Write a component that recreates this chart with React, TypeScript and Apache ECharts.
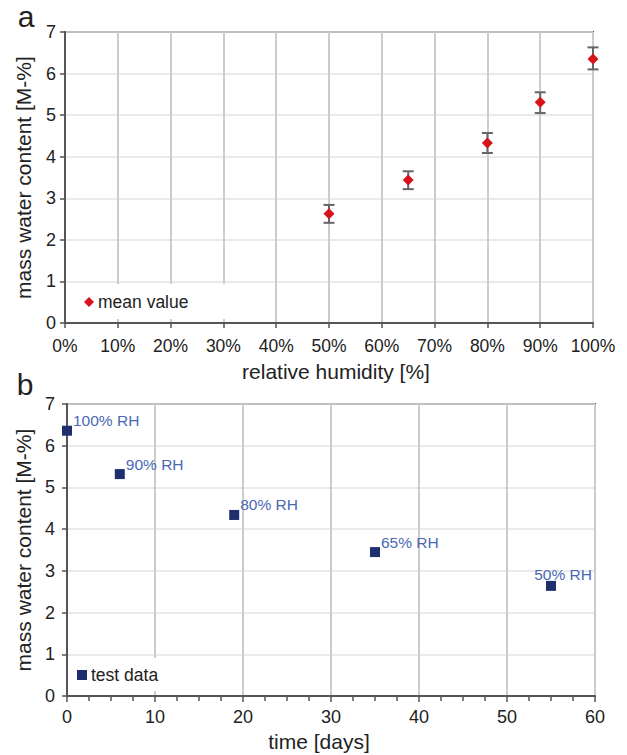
import React, { useEffect, useRef } from "react";
import * as echarts from "echarts";

// Panel a: mean water content vs relative humidity
const humidity = [50, 65, 80, 90, 100];
const meanValue = [2.63, 3.44, 4.33, 5.31, 6.35];
const errLower = [2.41, 3.22, 4.09, 5.05, 6.1];
const errUpper = [2.84, 3.65, 4.57, 5.55, 6.63];

// Panel b: test data vs time
const days = [0, 6, 19, 35, 55];
const testData = [6.36, 5.32, 4.34, 3.45, 2.64];
const pointLabels = ["100% RH", "90% RH", "80% RH", "65% RH", "50% RH"];

const FONT = "'Liberation Sans', Arial, Helvetica, sans-serif";
const AXIS = "#555555";
const TEXT = "#222222";

export default function App() {
  const ref = useRef<HTMLDivElement>(null);
  useEffect(() => {
    if (!ref.current) return;
    const chart = echarts.init(ref.current, null, { renderer: "svg" });

    const yAxisCommon = (gridIndex: number, margin: number, fs: number) => ({
      type: "value",
      gridIndex,
      min: 0,
      max: 7,
      interval: 1,
      name: "mass water content [M-%]",
      nameLocation: "middle",
      nameGap: 31,
      nameTextStyle: { fontSize: 21, color: TEXT, fontFamily: FONT },
      axisLine: { show: true, lineStyle: { color: AXIS, width: 2 } },
      axisTick: { show: true, length: 5, lineStyle: { color: AXIS, width: 1.5 } },
      axisLabel: { fontSize: fs, color: TEXT, fontFamily: FONT, margin },
      splitLine: { show: true, lineStyle: { color: "#e3e3e3", width: 1.5 } },
    });

    const option: any = {
      animation: false,
      backgroundColor: "#ffffff",
      textStyle: { fontFamily: FONT },
      graphic: [
        {
          type: "text",
          x: 26,
          y: 16,
          style: { text: "a", fontSize: 30, fill: TEXT, fontFamily: FONT, align: "center", verticalAlign: "middle" },
        },
        {
          type: "text",
          x: 25,
          y: 384,
          style: { text: "b", fontSize: 30, fill: TEXT, fontFamily: FONT, align: "center", verticalAlign: "middle" },
        },
      ],
      grid: [
        { left: 65, top: 32, width: 528, height: 291, show: true, borderColor: AXIS, borderWidth: 2, backgroundColor: "transparent" },
        { left: 67, top: 404, width: 528, height: 292, show: true, borderColor: AXIS, borderWidth: 2, backgroundColor: "transparent" },
      ],
      legend: [
        {
          data: ["mean value"],
          left: 67,
          top: 284,
          orient: "horizontal",
          padding: [9, 40, 8, 17],
          backgroundColor: "#ffffff",
          itemWidth: 10,
          itemHeight: 10,
          itemGap: 5,
          textStyle: { fontSize: 17.5, color: TEXT, fontFamily: FONT, padding: [0, 0, 0, -1] },
        },
        {
          data: ["test data"],
          left: 68,
          top: 658,
          padding: [8, 10, 7, 9],
          backgroundColor: "#ffffff",
          itemWidth: 10,
          itemHeight: 10,
          textStyle: { fontSize: 17.5, color: TEXT, fontFamily: FONT, padding: [0, 0, 0, -1] },
        },
      ],
      xAxis: [
        {
          type: "value",
          gridIndex: 0,
          min: 0,
          max: 100,
          interval: 10,
          name: "relative humidity [%]",
          nameLocation: "middle",
          nameGap: 38,
          nameTextStyle: { fontSize: 21, color: TEXT, fontFamily: FONT, padding: [0, 0, 0, 14] },
          axisLine: { show: true, lineStyle: { color: AXIS, width: 2 } },
          axisTick: { show: true, length: 5, lineStyle: { color: AXIS, width: 1.5 } },
          axisLabel: { fontSize: 17.5, color: TEXT, fontFamily: FONT, margin: 14, formatter: "{value}%" },
          splitLine: { show: true, lineStyle: { color: "#cccccc", width: 2 } },
        },
        {
          type: "value",
          gridIndex: 1,
          min: 0,
          max: 60,
          interval: 10,
          name: "time [days]",
          nameLocation: "middle",
          nameGap: 35,
          nameTextStyle: { fontSize: 21, color: TEXT, fontFamily: FONT, padding: [0, 24, 0, 0] },
          axisLine: { show: true, lineStyle: { color: AXIS, width: 2 } },
          axisTick: { show: true, length: 6, lineStyle: { color: AXIS, width: 1.5 } },
          minorTick: { show: true, splitNumber: 4, length: 5, lineStyle: { color: AXIS, width: 1.5 } },
          axisLabel: { fontSize: 18, color: TEXT, fontFamily: FONT, margin: 12 },
          splitLine: { show: true, lineStyle: { color: "#cccccc", width: 2 } },
        },
      ],
      yAxis: [yAxisCommon(0, 9, 18), yAxisCommon(1, 12, 18)],
      series: [
        {
          name: "error",
          type: "custom",
          xAxisIndex: 0,
          yAxisIndex: 0,
          z: 3,
          encode: { x: 0, y: [1, 2] },
          data: humidity.map((h, i) => [h, errLower[i], errUpper[i]]),
          renderItem: (params: any, api: any) => {
            const x = api.value(0);
            const lo = api.coord([x, api.value(1)]);
            const hi = api.coord([x, api.value(2)]);
            const hw = 5.5;
            const st = { stroke: "#666666", lineWidth: 2 };
            return {
              type: "group",
              children: [
                { type: "line", shape: { x1: lo[0], y1: lo[1], x2: hi[0], y2: hi[1] }, style: st },
                { type: "line", shape: { x1: lo[0] - hw, y1: lo[1], x2: lo[0] + hw, y2: lo[1] }, style: st },
                { type: "line", shape: { x1: hi[0] - hw, y1: hi[1], x2: hi[0] + hw, y2: hi[1] }, style: st },
              ],
            };
          },
        },
        {
          name: "mean value",
          type: "scatter",
          xAxisIndex: 0,
          yAxisIndex: 0,
          z: 4,
          clip: false,
          symbol: "diamond",
          symbolSize: [11, 11],
          itemStyle: { color: "#d7141c", opacity: 1 },
          data: humidity.map((h, i) => [h, meanValue[i]]),
        },
        {
          name: "test data",
          type: "scatter",
          xAxisIndex: 1,
          yAxisIndex: 1,
          z: 4,
          clip: false,
          symbol: "rect",
          symbolSize: 10,
          itemStyle: { color: "#1f2f6e", opacity: 1 },
          label: {
            show: true,
            position: "right",
            distance: 0,
            offset: [1, -10],
            fontSize: 15.5,
            color: "#4a69b5",
            fontFamily: FONT,
            formatter: (p: any) => pointLabels[p.dataIndex],
          },
          data: days.map((d, i) => {
            const item: any = { value: [d, testData[i]] };
            if (i === days.length - 1) {
              item.label = { position: "top", distance: 0, offset: [12, 2] };
            }
            return item;
          }),
        },
      ],
    };

    chart.setOption(option);
    return () => chart.dispose();
  }, []);

  return (
    <div
      ref={ref}
      style={{ position: "absolute", left: 0, top: 0, width: 627, height: 755 }}
    />
  );
}
